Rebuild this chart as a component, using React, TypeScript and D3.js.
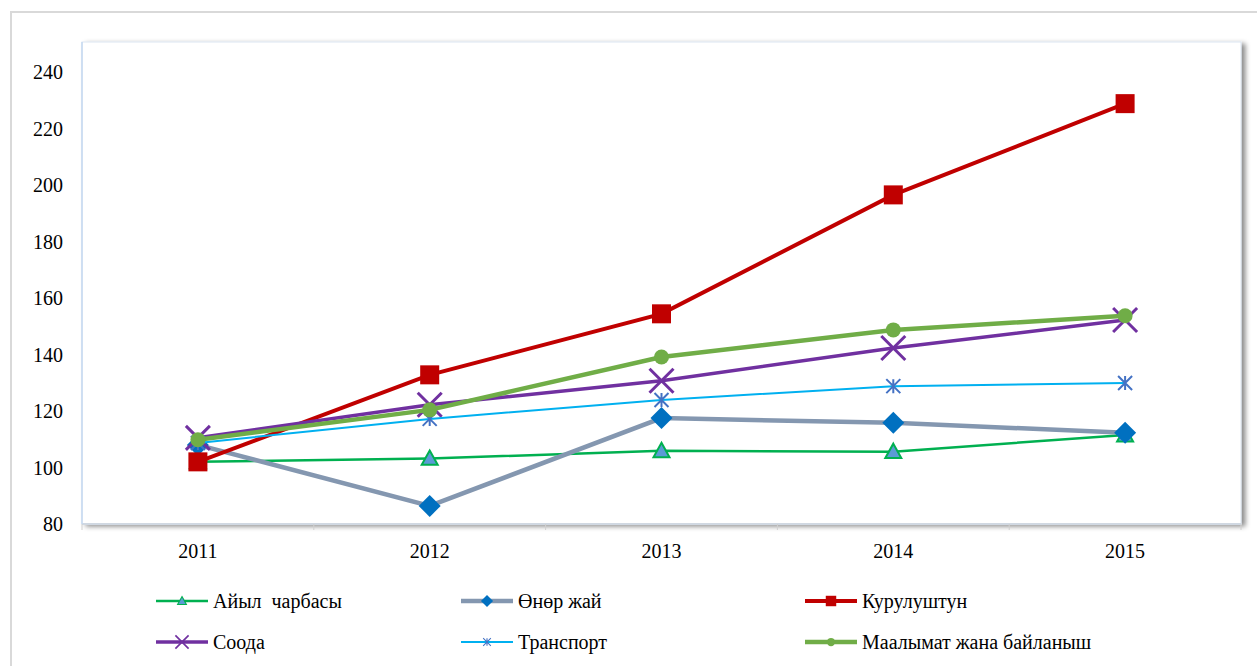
import React from "react";
import * as d3 from "d3";

const years = ["2011", "2012", "2013", "2014", "2015"];
const yTicks = [80, 100, 120, 140, 160, 180, 200, 220, 240];

const seriesNames = [
  "Айыл  чарбасы",
  "Өнөр жай",
  "Курулуштун",
  "Соода",
  "Транспорт",
  "Маалымат жана байланыш",
];
const ayilValues = [102, 103.2, 105.9, 105.6, 111.5];
const onorValues = [108, 86.4, 117.5, 115.8, 112.3];
const kuruluValues = [102, 132.8, 154.4, 196.5, 228.8];
const soodaValues = [110.5, 122.2, 130.7, 142.3, 152.2];
const transportValues = [108.7, 117.2, 123.9, 128.8, 129.9];
const maalymatValues = [109.8, 120.4, 139.1, 148.7, 153.7];

type Style = {
  line: string;
  width: number;
  marker: "triangle" | "diamond" | "square" | "x" | "star" | "circle";
  fill: string;
  stroke: string;
  size: number;
};

const styles: Style[] = [
  { line: "#00b050", width: 2.5, marker: "triangle", fill: "#5b9bd5", stroke: "#00b050", size: 16 },
  { line: "#8497b0", width: 4.5, marker: "diamond", fill: "#0070c0", stroke: "#0070c0", size: 22 },
  { line: "#c00000", width: 4, marker: "square", fill: "#c00000", stroke: "#c00000", size: 19 },
  { line: "#7030a0", width: 3.5, marker: "x", fill: "none", stroke: "#7030a0", size: 24 },
  { line: "#00b0f0", width: 2, marker: "star", fill: "none", stroke: "#4472c4", size: 14 },
  { line: "#70ad47", width: 4.5, marker: "circle", fill: "#70ad47", stroke: "#70ad47", size: 15 },
];

const allValues = [ayilValues, onorValues, kuruluValues, soodaValues, transportValues, maalymatValues];

function Marker({ s, x, y, scale = 1 }: { s: Style; x: number; y: number; scale?: number }) {
  const r = (s.size / 2) * scale;
  switch (s.marker) {
    case "triangle":
      return (
        <path
          d={`M${x},${y - r}L${x + r},${y + r * 0.8}L${x - r},${y + r * 0.8}Z`}
          fill={s.fill}
          stroke={s.stroke}
          strokeWidth={2 * scale}
        />
      );
    case "diamond":
      return <path d={`M${x},${y - r}L${x + r},${y}L${x},${y + r}L${x - r},${y}Z`} fill={s.fill} />;
    case "square":
      return <rect x={x - r} y={y - r} width={2 * r} height={2 * r} fill={s.fill} />;
    case "x":
      return (
        <path
          d={`M${x - r},${y - r}L${x + r},${y + r}M${x - r},${y + r}L${x + r},${y - r}`}
          stroke={s.stroke}
          strokeWidth={3 * scale}
        />
      );
    case "star":
      return (
        <path
          d={`M${x - r},${y - r}L${x + r},${y + r}M${x - r},${y + r}L${x + r},${y - r}M${x},${y - r}L${x},${y + r}`}
          stroke={s.stroke}
          strokeWidth={2 * scale}
        />
      );
    case "circle":
      return <circle cx={x} cy={y} r={r} fill={s.fill} />;
  }
}

export default function App() {
  const W = 1257;
  const H = 666;
  const plotL = 82;
  const plotR = 1241;
  const plotT = 42;
  const plotB = 524;

  const x = d3.scaleBand<string>().domain(years).range([plotL, plotR]);
  const y = d3.scaleLinear().domain([80, 240]).range([plotB, 72]);
  const cx = (yr: string) => (x(yr) as number) + x.bandwidth() / 2;

  const line = d3
    .line<number>()
    .x((_, i) => cx(years[i]))
    .y((v) => y(v));

  const fontStyle = { fontFamily: '"Liberation Serif", "DejaVu Serif", serif', whiteSpace: "pre" as const };

  const legendCols = [156, 461, 805];
  const legendRows = [601, 642];

  return (
    <div style={{ position: "absolute", left: 0, top: 0 }}>
      <svg width={W} height={H} style={{ display: "block", background: "#fff" }}>
        <defs>
          <filter id="sh" x="-5%" y="-5%" width="110%" height="115%">
            <feDropShadow dx="4" dy="2" stdDeviation="2.5" floodColor="#000" floodOpacity="0.45" />
          </filter>
        </defs>
        {/* outer frame */}
        <path d={`M11,${H}L11,12L${W},12`} fill="none" stroke="#d9d9d9" strokeWidth={2} />
        {/* plot area */}
        <rect
          x={plotL}
          y={plotT}
          width={plotR - plotL}
          height={plotB - plotT}
          fill="#fff"
          stroke="#dce6f2"
          strokeWidth={1}
          filter="url(#sh)"
        />
        {/* x axis line */}
        <line x1={plotL} x2={plotR} y1={plotB} y2={plotB} stroke="#d0d8e2" strokeWidth={2} />
        <line x1={plotL} x2={plotL} y1={plotT} y2={plotB} stroke="#c5d9f1" strokeWidth={1.5} />
        {/* tick marks between categories */}
        {years.concat(["end"]).map((yr, i) => {
          const tx = plotL + i * x.bandwidth();
          return <line key={i} x1={tx} x2={tx} y1={plotB} y2={plotB + 6} stroke="#d0d0d0" strokeWidth={1} />;
        })}
        {/* y tick labels */}
        {yTicks.map((t) => (
          <text
            key={t}
            x={63}
            y={y(t)}
            dy="0.35em"
            textAnchor="end"
            style={fontStyle}
            fontSize={20}
            fill="#000"
          >
            {t}
          </text>
        ))}
        {/* x labels */}
        {years.map((yr) => (
          <text key={yr} x={cx(yr)} y={558} textAnchor="middle" style={fontStyle} fontSize={20} fill="#000">
            {yr}
          </text>
        ))}
        {/* series */}
        {allValues.map((vals, si) => (
          <g key={si}>
            <path d={line(vals) || ""} fill="none" stroke={styles[si].line} strokeWidth={styles[si].width} />
            {vals.map((v, i) => (
              <Marker key={i} s={styles[si]} x={cx(years[i])} y={y(v)} />
            ))}
          </g>
        ))}
        {/* legend */}
        {seriesNames.map((name, i) => {
          const col = i % 3;
          const row = Math.floor(i / 3);
          const lx = legendCols[col];
          const ly = legendRows[row];
          const s = styles[i];
          return (
            <g key={name}>
              <line x1={lx} x2={lx + 52} y1={ly} y2={ly} stroke={s.line} strokeWidth={s.width} />
              <Marker s={s} x={lx + 26} y={ly} scale={0.55} />
              <text x={lx + 57} y={ly} dy="0.35em" style={fontStyle} fontSize={20} fill="#000">
                {name}
              </text>
            </g>
          );
        })}
      </svg>
    </div>
  );
}
